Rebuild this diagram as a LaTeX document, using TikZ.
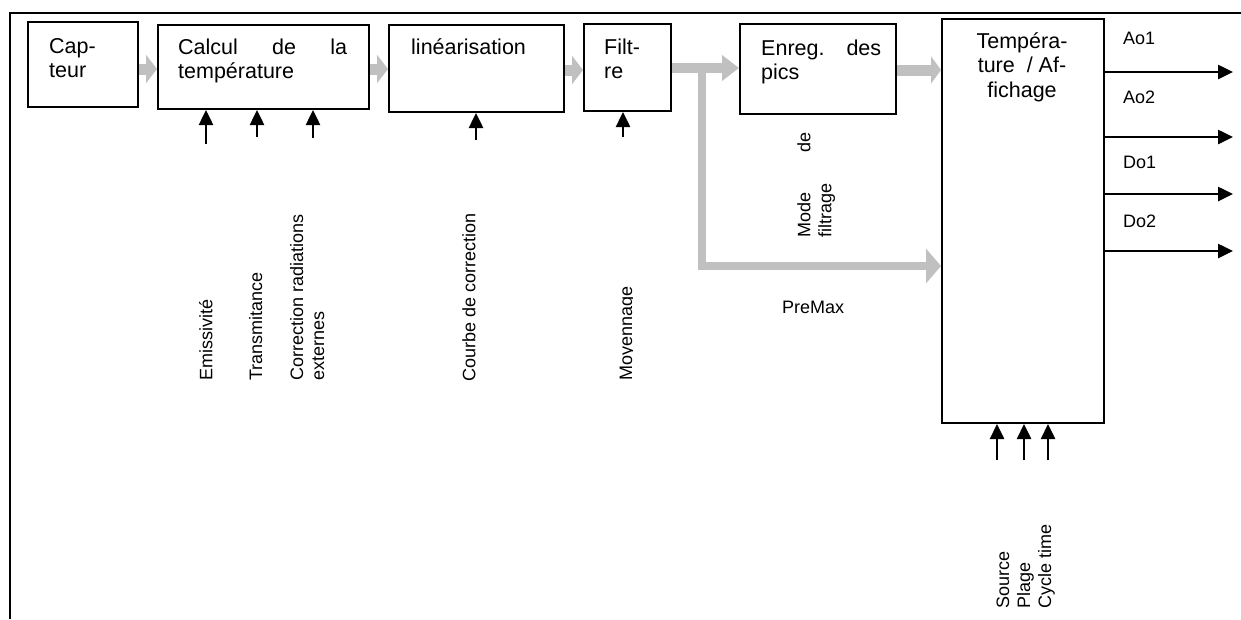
\documentclass[tikz,border=0pt]{standalone}
\usepackage{fontspec}
\setmainfont{Liberation Sans}
\usetikzlibrary{arrows.meta}
\definecolor{arrgray}{RGB}{192,192,192}
\newcommand\toprl[1]{\rule{0pt}{#1}}
\tikzset{
  box/.style={draw, line width=2pt, inner sep=0pt, anchor=north west},
  btxt/.style={inner sep=0pt, anchor=north west, align=left, font=\fontsize{21.5}{24.5}\selectfont},
  vtxt/.style={inner sep=0pt, anchor=north west, rotate=90, align=left, font=\fontsize{18}{21}\selectfont},
  otxt/.style={inner sep=0pt, anchor=base west, font=\fontsize{18}{21}\selectfont},
  garrow/.style={draw=arrgray, line width=11pt, -{Triangle[length=11pt,width=28pt]}, arrgray},
  barrow/.style={draw=black, line width=2.5pt, -{Triangle[length=15pt,width=14pt]}},
}
\begin{document}
\begin{tikzpicture}[x=1pt,y=-1pt]
\useasboundingbox (0,0) rectangle (1241,619);
% frame
\draw[line width=2.5pt] (10,619) -- (10,13) -- (1241,13);
% boxes
\node[box, minimum width=110pt, minimum height=85pt] (cap) at (27,21) {};
\node[box, minimum width=211pt, minimum height=84pt] (cal) at (157,24) {};
\node[box, minimum width=175pt, minimum height=87pt] (lin) at (388,24) {};
\node[box, minimum width=87pt, minimum height=87pt] (fil) at (583,23) {};
\node[box, minimum width=156pt, minimum height=90pt] (enr) at (739,23) {};
\node[box, minimum width=162pt, minimum height=404pt] (tem) at (941,18) {};
% box texts
\node[btxt] (capT) at (49,36) {\toprl{17pt}Cap-\\teur};
\node[btxt, text width=169pt, align=justify] (calT) at (178,37) {\toprl{17pt}Calcul de la\linebreak température};
\node[btxt] (linT) at (411,37) {\toprl{17pt}linéarisation};
\node[btxt] (filT) at (604,37) {\toprl{17pt}Filt-\\re};
\node[btxt, text width=120pt, align=justify] (enrT) at (761,38) {\toprl{17pt}Enreg. des\linebreak pics};
\node[btxt, anchor=north, align=center] (temT) at (1022,31) {\toprl{17pt}Tempéra-\\ture~ / Af-\\fichage};
% gray flow arrows
\draw[garrow] (cap.east |- 0,69) -- (cal.west |- 0,69);
\draw[garrow] (cal.east |- 0,69) -- (lin.west |- 0,69);
\draw[garrow] (lin.east |- 0,70) -- (fil.west |- 0,70);
\draw[garrow, line width=10pt, -{Triangle[length=17pt,width=25pt]}] (fil.east |- 0,68) -- (enr.west |- 0,68);
\draw[garrow, -{Triangle[length=10pt,width=27pt]}] (enr.east |- 0,70) -- (tem.west |- 0,70);
\coordinate (br) at (702,68);
\coordinate (bend) at (702,266);
\draw[garrow, line width=8pt, -{Triangle[length=15pt,width=34pt]}] (br) -- (bend) -- (bend -| tem.west);
% input arrows
\coordinate (e1) at (206,144);
\coordinate (e2) at (257,137);
\coordinate (e3) at (313,138);
\coordinate (e4) at (476,140);
\coordinate (e5) at (623,137);
\draw[barrow] (e1) -- (e1 |- cal.south);
\draw[barrow] (e2) -- (e2 |- cal.south);
\draw[barrow] (e3) -- (e3 |- cal.south);
\draw[barrow] (e4) -- (e4 |- lin.south);
\draw[barrow] (e5) -- (e5 |- fil.south);
\coordinate (s1) at (997,460);
\coordinate (s2) at (1024,460);
\coordinate (s3) at (1048,460);
\draw[barrow] (s1) -- (s1 |- tem.south);
\draw[barrow] (s2) -- (s2 |- tem.south);
\draw[barrow] (s3) -- (s3 |- tem.south);
% output arrows
\coordinate (o1) at (1233,72);
\coordinate (o2) at (1233,137);
\coordinate (o3) at (1233,194);
\coordinate (o4) at (1233,251);
\draw[barrow] (tem.east |- o1) -- (o1);
\draw[barrow] (tem.east |- o2) -- (o2);
\draw[barrow] (tem.east |- o3) -- (o3);
\draw[barrow] (tem.east |- o4) -- (o4);
% output labels
\node[otxt] (ao1) at (1123,44) {Ao1};
\node[otxt] (ao2) at (1123,103) {Ao2};
\node[otxt] (do1) at (1123,168) {Do1};
\node[otxt] (do2) at (1123,227) {Do2};
% vertical labels
\node[vtxt] (emi) at (199,381) {\toprl{13pt}Emissivité};
\node[vtxt] (tra) at (249,381) {\toprl{13pt}Transmitance};
\node[vtxt] (cor) at (290,381) {\toprl{13pt}Correction radiations\\externes};
\node[vtxt] (cou) at (462,382) {\toprl{13pt}Courbe de correction};
\begin{scope}
\clip (600,200) rectangle (632.3,400);
\node[vtxt] (moy) at (619,381) {\toprl{13pt}Moyennage};
\end{scope}
\node[vtxt, text width=105pt, align=justify] (mod) at (797,238) {\toprl{13pt}Mode de\linebreak filtrage};
\node[vtxt] (src) at (996,609) {\toprl{13pt}Source\\Plage\\Cycle time};
\node[otxt] (pre) at (782,313) {PreMax};
\end{tikzpicture}
\end{document}
